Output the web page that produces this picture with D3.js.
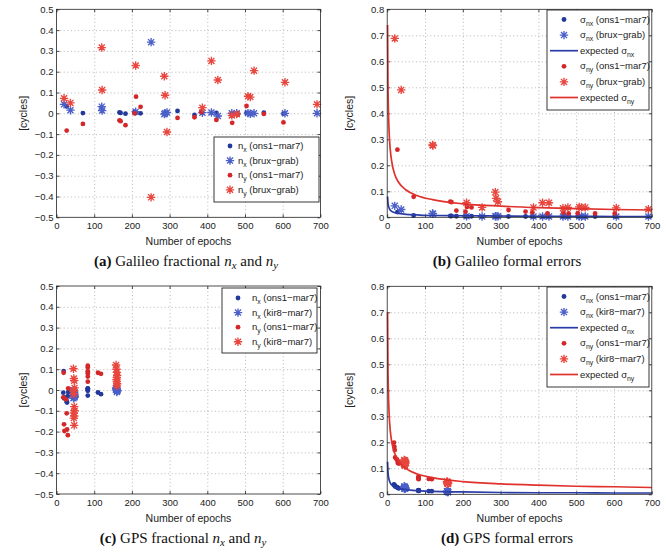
<!DOCTYPE html>
<html>
<head>
<meta charset="utf-8">
<script src="https://cdn.jsdelivr.net/npm/d3@7"></script>
<style>
body{margin:0;background:#fff;}
svg{display:block;font-family:"Liberation Sans",Arial,sans-serif;}
</style>
</head>
<body>
<svg id="fig" width="666" height="553"></svg>
<script>
// ticks
var xTicks = [0, 100, 200, 300, 400, 500, 600, 700];
var yTicksFrac = [-0.5, -0.4, -0.3, -0.2, -0.1, 0, 0.1, 0.2, 0.3, 0.4, 0.5];
var yTicksErr = [0, 0.1, 0.2, 0.3, 0.4, 0.5, 0.6, 0.7, 0.8];

// Galileo, ons1-mar7
var galOnsEpochs = [27, 70, 167, 170, 183, 207, 211, 223, 321, 366, 384, 424, 466, 480, 504, 550, 602];
var galOnsNx = [0.033, 0.001, 0.004, 0.002, -0.002, 0.008, 0.003, 0.0, 0.011, -0.008, 0.008, 0.002, -0.004, -0.002, 0.002, 0.003, -0.002];
var galOnsNy = [-0.083, -0.051, -0.034, -0.038, -0.057, 0.0, 0.08, 0.031, -0.022, -0.019, 0.006, -0.032, -0.046, -0.006, 0.035, -0.003, -0.044];
var galOnsSigNx = [0.02, 0.007, 0.005, 0.005, 0.004, 0.004, 0.004, 0.004, 0.003, 0.003, 0.003, 0.003, 0.003, 0.003, 0.003, 0.003, 0.003];
var galOnsSigNy = [0.26, 0.079, 0.06, 0.058, 0.026, 0.022, 0.04, 0.038, 0.028, 0.022, 0.019, 0.015, 0.018, 0.015, 0.016, 0.015, 0.015];

// Galileo, brux-grab
var galBruxEpochs = [20, 37, 120, 121, 210, 251, 286, 288, 293, 387, 411, 428, 465, 478, 508, 514, 524, 606, 691];
var galBruxNx = [0.043, 0.015, 0.032, 0.013, 0.008, 0.342, -0.004, 0.0, 0.004, 0.003, 0.004, -0.013, 0.0, 0.0, 0.001, -0.002, 0.0, 0.0, 0.0];
var galBruxNy = [0.072, 0.05, 0.316, 0.112, 0.23, -0.404, 0.178, 0.087, -0.09, 0.027, 0.252, 0.16, -0.01, -0.004, 0.082, 0.078, 0.205, 0.149, 0.043];
var galBruxSigNx = [0.044, 0.03, 0.015, 0.013, 0.004, 0.003, 0.004, 0.004, 0.004, 0.003, 0.003, 0.003, 0.003, 0.003, 0.003, 0.003, 0.003, 0.003, 0.003];
var galBruxSigNy = [0.688, 0.49, 0.278, 0.276, 0.056, 0.038, 0.097, 0.073, 0.06, 0.038, 0.056, 0.056, 0.035, 0.038, 0.04, 0.038, 0.038, 0.036, 0.031];

// GPS, ons1-mar7
var gpsOnsEpochs = [18, 19, 20, 21, 25, 27, 28, 30, 31, 83, 83, 83, 83, 83, 83, 110, 118, 160];
var gpsOnsNx = [-0.013, 0.091, -0.04, -0.035, -0.045, -0.056, -0.06, -0.03, -0.01, 0.006, 0.0, -0.027, 0.003, -0.004, 0.008, -0.012, -0.02, 0.004];
var gpsOnsNy = [-0.035, 0.083, -0.165, -0.197, -0.045, -0.112, -0.19, -0.217, 0.008, 0.117, 0.108, 0.09, 0.08, 0.065, 0.04, 0.083, 0.078, 0.06];
var gpsOnsSigNx = [0.038, 0.035, 0.033, 0.03, 0.028, 0.026, 0.025, 0.024, 0.023, 0.016, 0.015, 0.015, 0.014, 0.014, 0.013, 0.012, 0.012, 0.01];
var gpsOnsSigNy = [0.199, 0.183, 0.17, 0.142, 0.135, 0.13, 0.12, 0.125, 0.118, 0.068, 0.066, 0.064, 0.062, 0.06, 0.058, 0.059, 0.058, 0.047];

// GPS, kir8-mar7
var gpsKirEpochs = [45, 46, 47, 48, 45, 46, 47, 48, 46, 47, 46, 47, 158, 159, 160, 161, 160, 159, 160, 161, 160];
var gpsKirNx = [0.0, -0.01, -0.02, -0.03, -0.04, -0.015, -0.025, -0.035, -0.005, -0.02, -0.03, -0.01, 0.01, 0.005, 0.0, -0.005, -0.01, 0.008, 0.002, -0.003, 0.0];
var gpsKirNy = [0.102, 0.055, 0.045, 0.01, -0.005, -0.02, -0.08, -0.1, -0.11, -0.125, -0.135, -0.17, 0.12, 0.1, 0.085, 0.07, 0.06, 0.05, 0.04, 0.03, 0.02];
var gpsKirSigNx = [0.03, 0.028, 0.026, 0.024, 0.022, 0.027, 0.025, 0.023, 0.029, 0.021, 0.026, 0.024, 0.012, 0.011, 0.01, 0.01, 0.009, 0.011, 0.01, 0.009, 0.01];
var gpsKirSigNy = [0.132, 0.128, 0.124, 0.12, 0.116, 0.113, 0.13, 0.126, 0.118, 0.122, 0.115, 0.11, 0.049, 0.046, 0.044, 0.042, 0.04, 0.048, 0.045, 0.043, 0.041];

// expected formal errors
var expEpochs = [1, 2, 3, 5, 8, 12, 20, 30, 50, 80, 120, 200, 300, 400, 500, 600, 700];
var galExpNx = [0.08, 0.057, 0.046, 0.036, 0.028, 0.023, 0.018, 0.015, 0.011, 0.009, 0.007, 0.006, 0.005, 0.004, 0.004, 0.003, 0.003];
var galExpNy = [0.74, 0.523, 0.427, 0.331, 0.262, 0.214, 0.165, 0.135, 0.105, 0.083, 0.068, 0.052, 0.043, 0.037, 0.033, 0.030, 0.028];
var gpsExpNx = [0.125, 0.088, 0.072, 0.056, 0.044, 0.036, 0.028, 0.023, 0.018, 0.014, 0.011, 0.009, 0.007, 0.006, 0.006, 0.005, 0.005];
var gpsExpNy = [0.70, 0.495, 0.404, 0.313, 0.247, 0.202, 0.157, 0.128, 0.099, 0.078, 0.064, 0.049, 0.040, 0.035, 0.031, 0.029, 0.026];

var blueDot = "#22389a", blueStar = "#4a5fc8", blueLine = "#2a3da6";
var redDot = "#d3272a", redStar = "#e8463e", redLine = "#e0322c";

var svg = d3.select("#fig");

function fmtTick(d) {
	if (Math.abs(d) < 1e-9) return "0";
	return d3.format(".1f")(d);
}

function starPath(r) {
	var q = r * 0.72;
	return "M" + (-r) + ",0H" + r + "M0," + (-r) + "V" + r +
		"M" + (-q) + "," + (-q) + "L" + q + "," + q +
		"M" + (-q) + "," + q + "L" + q + "," + (-q);
}

// writes text made of parts, parts with sub:true are lowered and smaller
function richText(sel, parts, size) {
	var shift = 0;
	parts.forEach(function(p) {
		var t = sel.append("tspan").text(p.t);
		if (p.sub) {
			t.attr("font-size", size * 0.72).attr("dy", (3 - shift));
			shift = 3;
		} else {
			t.attr("dy", -shift);
			shift = 0;
		}
		if (p.it) t.attr("font-style", "italic");
		if (p.b) t.attr("font-weight", "bold");
	});
}

function drawPanel(o) {
	var g = svg.append("g");
	var x = d3.scaleLinear().domain([0, 700]).range([o.left, o.right]);
	var y = d3.scaleLinear().domain(o.yDomain).range([o.bottom, o.top]);
	var h = o.bottom - o.top, w = o.right - o.left;

	// dotted grid
	var gGridX = g.append("g").attr("transform", "translate(0," + o.bottom + ")");
	gGridX.call(d3.axisBottom(x).tickValues(xTicks.slice(1, -1)).tickSize(-h).tickFormat(""));
	var gGridY = g.append("g").attr("transform", "translate(" + o.left + ",0)");
	gGridY.call(d3.axisLeft(y).tickValues(o.yTicks.slice(1, -1)).tickSize(-w).tickFormat(""));
	[gGridX, gGridY].forEach(function(s) {
		s.select(".domain").remove();
		s.selectAll("line").attr("stroke", "#9a9a9a").attr("stroke-width", 0.7).attr("stroke-dasharray", "1,2.6");
	});

	// axes with inward ticks
	var gAxisX = g.append("g").attr("transform", "translate(0," + o.bottom + ")");
	gAxisX.call(d3.axisBottom(x).tickValues(xTicks).tickSizeInner(-3).tickSizeOuter(0).tickPadding(5));
	var gAxisXT = g.append("g").attr("transform", "translate(0," + o.top + ")");
	gAxisXT.call(d3.axisTop(x).tickValues(xTicks).tickSizeInner(-3).tickSizeOuter(0).tickFormat(""));
	var gAxisY = g.append("g").attr("transform", "translate(" + o.left + ",0)");
	gAxisY.call(d3.axisLeft(y).tickValues(o.yTicks).tickSizeInner(-3).tickSizeOuter(0).tickPadding(3).tickFormat(fmtTick));
	var gAxisYR = g.append("g").attr("transform", "translate(" + o.right + ",0)");
	gAxisYR.call(d3.axisRight(y).tickValues(o.yTicks).tickSizeInner(-3).tickSizeOuter(0).tickFormat(""));
	[gAxisX, gAxisXT, gAxisY, gAxisYR].forEach(function(s) {
		s.select(".domain").remove();
		s.selectAll("line").attr("stroke", "#222").attr("stroke-width", 0.8);
		s.selectAll("text").attr("font-size", 9.5).attr("fill", "#222").attr("font-family", "Liberation Sans, Arial, sans-serif");
	});

	// marks
	var line = d3.line().x(function(d) { return x(d[0]); }).y(function(d) { return y(d[1]); }).curve(d3.curveMonotoneX);
	o.series.forEach(function(s) {
		var pts = s.xs.map(function(v, i) { return [v, s.ys[i]]; });
		if (s.kind === "dot") {
			g.append("g").selectAll("circle").data(pts).join("circle")
				.attr("cx", function(d) { return x(d[0]); })
				.attr("cy", function(d) { return y(d[1]); })
				.attr("r", 2.4).attr("fill", s.color);
		} else if (s.kind === "star") {
			g.append("g").selectAll("path").data(pts).join("path")
				.attr("d", starPath(4.2))
				.attr("transform", function(d) { return "translate(" + x(d[0]) + "," + y(d[1]) + ")"; })
				.attr("fill", "none").attr("stroke", s.color).attr("stroke-width", 1.35);
		} else {
			g.append("path").datum(pts).attr("d", line)
				.attr("fill", "none").attr("stroke", s.color).attr("stroke-width", 1.7);
		}
	});

	// frame
	g.append("rect").attr("x", o.left).attr("y", o.top).attr("width", w).attr("height", h)
		.attr("fill", "none").attr("stroke", "#222").attr("stroke-width", 0.8);

	// labels
	g.append("text").attr("x", (o.left + o.right) / 2).attr("y", o.bottom + 28)
		.attr("text-anchor", "middle").attr("font-size", 10.5).attr("fill", "#222").text("Number of epochs");
	g.append("text").attr("transform", "translate(" + (o.left - o.yLabelOff) + "," + ((o.top + o.bottom) / 2) + ") rotate(-90)")
		.attr("text-anchor", "middle").attr("font-size", 10.5).attr("fill", "#222").text("[cycles]");

	// legend
	var L = o.legend;
	var gl = g.append("g");
	gl.append("rect").attr("x", L.x).attr("y", L.y).attr("width", L.w).attr("height", L.h)
		.attr("fill", "#fff").attr("stroke", "#222").attr("stroke-width", 0.9);
	o.series.forEach(function(s, i) {
		var ry = L.y + L.first + i * L.step;
		if (s.kind === "dot") {
			gl.append("circle").attr("cx", L.mx).attr("cy", ry).attr("r", 2.4).attr("fill", s.color);
		} else if (s.kind === "star") {
			gl.append("path").attr("d", starPath(4.2)).attr("transform", "translate(" + L.mx + "," + ry + ")")
				.attr("fill", "none").attr("stroke", s.color).attr("stroke-width", 1.35);
		} else {
			gl.append("line").attr("x1", L.mx - 14).attr("x2", L.mx + 14).attr("y1", ry).attr("y2", ry)
				.attr("stroke", s.color).attr("stroke-width", 1.7);
		}
		var t = gl.append("text").attr("x", L.tx).attr("y", ry + 3).attr("font-size", 9.5).attr("fill", "#222");
		richText(t, s.label, 9.5);
	});

	// caption
	var c = svg.append("text").attr("x", o.capX).attr("y", o.capY).attr("text-anchor", "middle")
		.attr("font-family", "Liberation Serif, Times New Roman, serif").attr("font-size", 15).attr("fill", "#111");
	richText(c, o.caption, 15);
}

function lbl(main, sub, rest) {
	return [{t: main}, {t: sub, sub: true}, {t: rest}];
}

drawPanel({
	left: 56.5, right: 320.4, top: 9.3, bottom: 217.3,
	yDomain: [-0.5, 0.5], yTicks: yTicksFrac, yLabelOff: 30,
	series: [
		{kind: "dot", color: blueDot, xs: galOnsEpochs, ys: galOnsNx, label: lbl("n", "x", " (ons1\u2212mar7)")},
		{kind: "star", color: blueStar, xs: galBruxEpochs, ys: galBruxNx, label: lbl("n", "x", " (brux\u2212grab)")},
		{kind: "dot", color: redDot, xs: galOnsEpochs, ys: galOnsNy, label: lbl("n", "y", " (ons1\u2212mar7)")},
		{kind: "star", color: redStar, xs: galBruxEpochs, ys: galBruxNy, label: lbl("n", "y", " (brux\u2212grab)")}
	],
	legend: {x: 214, y: 137, w: 105, h: 65, first: 9, step: 14.6, mx: 230, tx: 238},
	capX: 186, capY: 266,
	caption: [{t: "(a)", b: true}, {t: " Galileo fractional "}, {t: "n", it: true}, {t: "x", it: true, sub: true}, {t: " and "}, {t: "n", it: true}, {t: "y", it: true, sub: true}]
});

drawPanel({
	left: 387.2, right: 651.8, top: 9.3, bottom: 217.3,
	yDomain: [0, 0.8], yTicks: yTicksErr, yLabelOff: 34,
	series: [
		{kind: "dot", color: blueDot, xs: galOnsEpochs, ys: galOnsSigNx, label: lbl("\u03c3", "nx", " (ons1\u2212mar7)")},
		{kind: "star", color: blueStar, xs: galBruxEpochs, ys: galBruxSigNx, label: lbl("\u03c3", "nx", " (brux\u2212grab)")},
		{kind: "line", color: blueLine, xs: expEpochs, ys: galExpNx, label: lbl("expected \u03c3", "nx", "")},
		{kind: "dot", color: redDot, xs: galOnsEpochs, ys: galOnsSigNy, label: lbl("\u03c3", "ny", " (ons1\u2212mar7)")},
		{kind: "star", color: redStar, xs: galBruxEpochs, ys: galBruxSigNy, label: lbl("\u03c3", "ny", " (brux\u2212grab)")},
		{kind: "line", color: redLine, xs: expEpochs, ys: galExpNy, label: lbl("expected \u03c3", "ny", "")}
	],
	legend: {x: 547, y: 10, w: 102, h: 100, first: 9.5, step: 15.6, mx: 564, tx: 580},
	capX: 507, capY: 266,
	caption: [{t: "(b)", b: true}, {t: " Galileo formal errors"}]
});

drawPanel({
	left: 56.5, right: 320.4, top: 286, bottom: 494,
	yDomain: [-0.5, 0.5], yTicks: yTicksFrac, yLabelOff: 30,
	series: [
		{kind: "dot", color: blueDot, xs: gpsOnsEpochs, ys: gpsOnsNx, label: lbl("n", "x", " (ons1\u2212mar7)")},
		{kind: "star", color: blueStar, xs: gpsKirEpochs, ys: gpsKirNx, label: lbl("n", "x", " (kir8\u2212mar7)")},
		{kind: "dot", color: redDot, xs: gpsOnsEpochs, ys: gpsOnsNy, label: lbl("n", "y", " (ons1\u2212mar7)")},
		{kind: "star", color: redStar, xs: gpsKirEpochs, ys: gpsKirNy, label: lbl("n", "y", " (kir8\u2212mar7)")}
	],
	legend: {x: 222, y: 288, w: 95, h: 65, first: 10, step: 14.6, mx: 238, tx: 252},
	capX: 183, capY: 543,
	caption: [{t: "(c)", b: true}, {t: " GPS fractional "}, {t: "n", it: true}, {t: "x", it: true, sub: true}, {t: " and "}, {t: "n", it: true}, {t: "y", it: true, sub: true}]
});

drawPanel({
	left: 387.2, right: 651.8, top: 286.3, bottom: 494.3,
	yDomain: [0, 0.8], yTicks: yTicksErr, yLabelOff: 34,
	series: [
		{kind: "dot", color: blueDot, xs: gpsOnsEpochs, ys: gpsOnsSigNx, label: lbl("\u03c3", "nx", " (ons1\u2212mar7)")},
		{kind: "star", color: blueStar, xs: gpsKirEpochs, ys: gpsKirSigNx, label: lbl("\u03c3", "nx", " (kir8\u2212mar7)")},
		{kind: "line", color: blueLine, xs: expEpochs, ys: gpsExpNx, label: lbl("expected \u03c3", "nx", "")},
		{kind: "dot", color: redDot, xs: gpsOnsEpochs, ys: gpsOnsSigNy, label: lbl("\u03c3", "ny", " (ons1\u2212mar7)")},
		{kind: "star", color: redStar, xs: gpsKirEpochs, ys: gpsKirSigNy, label: lbl("\u03c3", "ny", " (kir8\u2212mar7)")},
		{kind: "line", color: redLine, xs: expEpochs, ys: gpsExpNy, label: lbl("expected \u03c3", "ny", "")}
	],
	legend: {x: 547, y: 287, w: 102, h: 100, first: 9.5, step: 15.6, mx: 564, tx: 580},
	capX: 507, capY: 543,
	caption: [{t: "(d)", b: true}, {t: " GPS formal errors"}]
});
</script>
</body>
</html>
